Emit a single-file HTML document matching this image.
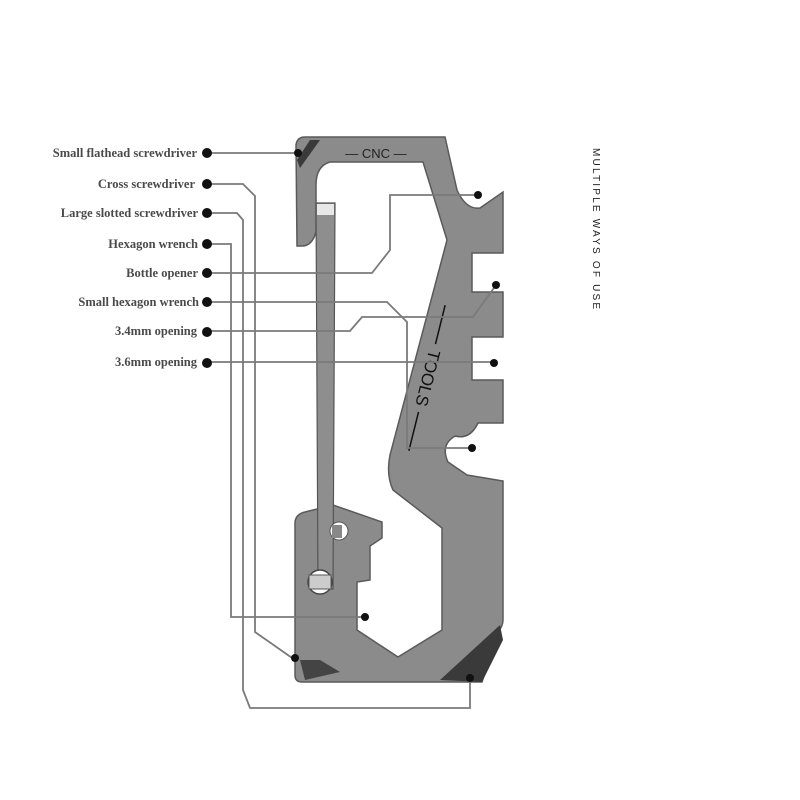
<!DOCTYPE html>
<html><head><style>
html,body{margin:0;padding:0;background:#fff;}
svg{display:block;}
</style></head><body>
<svg width="800" height="800" viewBox="0 0 800 800" xmlns="http://www.w3.org/2000/svg">
<rect width="800" height="800" fill="#fff"/>
<!-- tool body -->
<path fill-rule="evenodd" fill="#8b8b8b" stroke="#5a5a5a" stroke-width="1.5" d="
M297,246 L296,145 Q297,137 305,137 L445,137 L457,190 Q466,210 480,208 L503,192 L503,253 L472,253 L472,292 L503,292 L503,337 L472,337 L472,380 L503,380 L503,423 L478,423 Q470,440 455,436 Q440,445 448,462 L467,475 L503,481 L503,620 Q503,626 498,632 L482,682 L302,682 Q295,682 295,675 L295,522 Q296,514 305,512 L333,505 L382,522 L382,538 L370,546 L370,580 L357,582 L357,630 L398,657 L442,630 L442,528 L393,490 Q386,475 390,455 L447,240 L423,162 L330,162 Q316,166 316,185 L316,232 Q312,246 302,246 Z"/>
<polygon points="297,160 310,140 320,140 300,168" fill="#3a3a3a"/>
<polygon points="440,680 500,625 503,640 482,682" fill="#3a3a3a"/>
<polygon points="300,660 320,660 340,672 305,680" fill="#444"/>
<!-- gate -->
<polygon points="316,203 335,203 333,589 318,589" fill="#8e8e8e" stroke="#555" stroke-width="1.2"/>
<rect x="317" y="204" width="17" height="11" fill="#e8e8e8"/>
<circle cx="339" cy="531" r="9" fill="#fff" stroke="#555"/>
<rect x="332" y="525" width="10" height="13" fill="#888"/>
<circle cx="320" cy="582" r="12" fill="#fff" stroke="#444" stroke-width="1.5"/>
<rect x="309" y="575" width="22" height="14" fill="#ccc" stroke="#555"/>
<text x="376" y="158" font-family="Liberation Sans, sans-serif" font-size="13" fill="#222" text-anchor="middle">— CNC —</text>
<g transform="translate(427,378) rotate(104)">
<text x="0" y="5" font-family="Liberation Sans, sans-serif" font-size="17" fill="#111" text-anchor="middle">TOOLS</text>
<line x1="-75" y1="0" x2="-35" y2="0" stroke="#111" stroke-width="1.5"/>
<line x1="35" y1="0" x2="75" y2="0" stroke="#111" stroke-width="1.5"/>
</g>
<!-- connectors (drawn over tool) -->
<g fill="none" stroke="#7a7a7a" stroke-width="1.8">
<path d="M207,153 L298,153"/>
<path d="M207,184 L243,184 L255,196 L255,632 L295,660"/>
<path d="M207,213 L237,213 L243,220 L243,690 L250,708 L470,708 L470,678"/>
<path d="M207,244 L231,244 L231,617 L365,617"/>
<path d="M207,273 L372,273 L390,250 L390,195 L478,195"/>
<path d="M207,302 L387,302 L407,322 L407,448 L472,448"/>
<path d="M207,331 L350,331 L362,317 L473,317 L496,285"/>
<path d="M207,362 L494,362"/>
</g>
<g fill="#111">
<circle cx="207" cy="153" r="5"/><circle cx="207" cy="184" r="5"/><circle cx="207" cy="213" r="5"/>
<circle cx="207" cy="244" r="5"/><circle cx="207" cy="273" r="5"/><circle cx="207" cy="302" r="5"/>
<circle cx="207" cy="332" r="5"/><circle cx="207" cy="363" r="5"/>
<circle cx="298" cy="153" r="4"/><circle cx="295" cy="658" r="4"/><circle cx="470" cy="678" r="4"/>
<circle cx="365" cy="617" r="4"/><circle cx="478" cy="195" r="4"/><circle cx="472" cy="448" r="4"/>
<circle cx="496" cy="285" r="4"/><circle cx="494" cy="363" r="4"/>
</g>
<g font-family="Liberation Serif, serif" font-weight="bold" font-size="12.5" fill="#4a4a4a" text-anchor="end">
<text x="197" y="157">Small flathead screwdriver</text>
<text x="195" y="188">Cross screwdriver</text>
<text x="198" y="217">Large slotted screwdriver</text>
<text x="198" y="248">Hexagon wrench</text>
<text x="198" y="277">Bottle opener</text>
<text x="199" y="306">Small hexagon wrench</text>
<text x="197" y="335">3.4mm opening</text>
<text x="197" y="366">3.6mm opening</text>
</g>
<text transform="translate(593,148) rotate(90)" font-family="Liberation Sans, sans-serif" font-size="10" letter-spacing="2.2" fill="#222">MULTIPLE WAYS OF USE</text>
</svg>
</body></html>
